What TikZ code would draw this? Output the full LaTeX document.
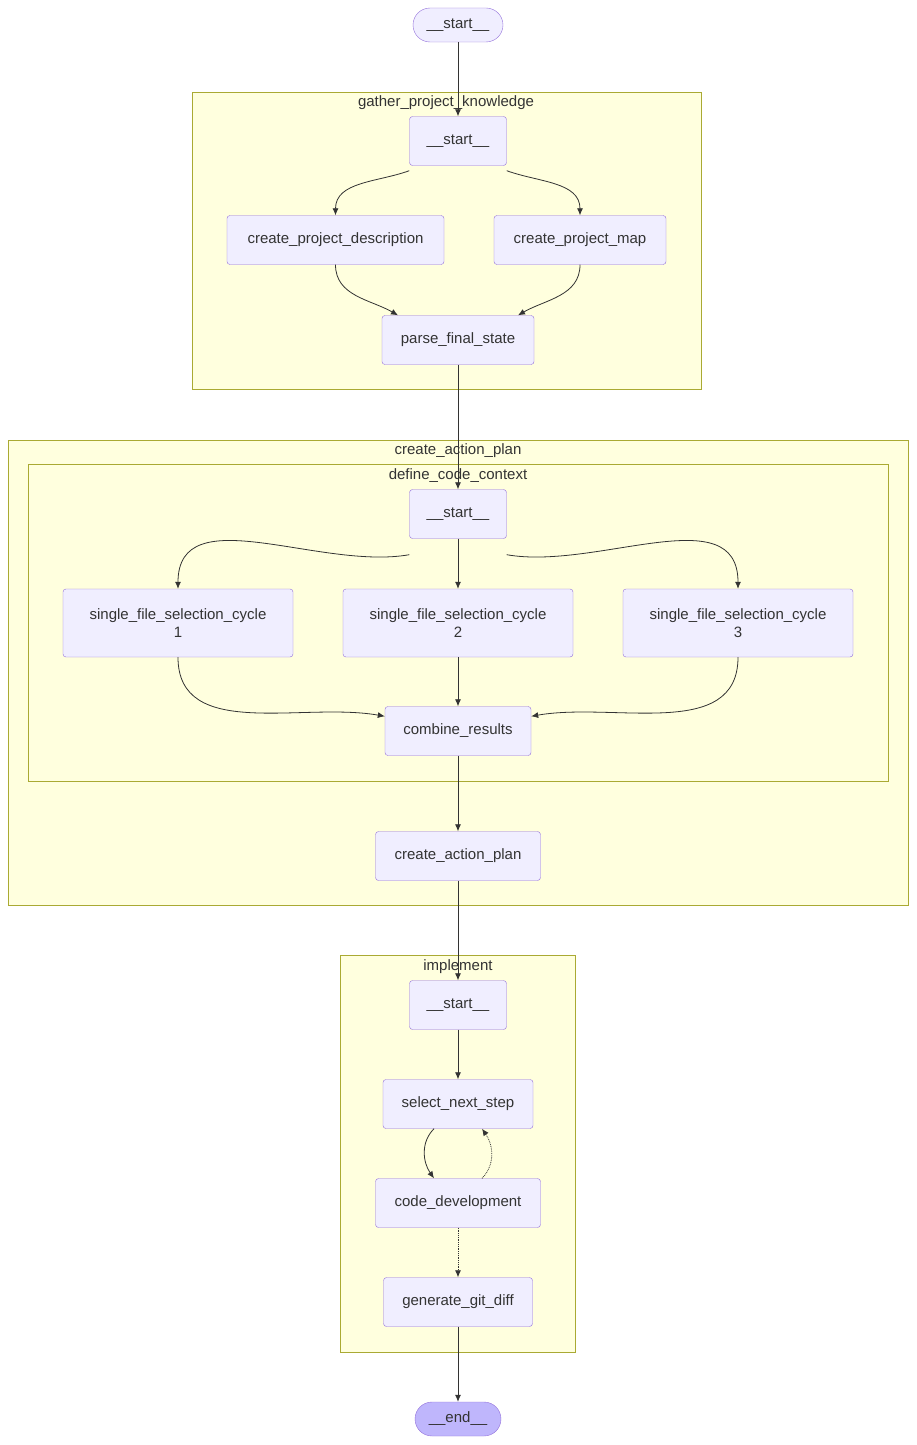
\documentclass[tikz,border=0pt]{standalone}
\usepackage{fontspec}
\setmainfont{Liberation Sans}
\usetikzlibrary{positioning, arrows.meta, calc}
\definecolor{nodeFill}{HTML}{F0EEFF}
\definecolor{nodeLine}{HTML}{9370DB}
\definecolor{clusterFill}{HTML}{FFFFDE}
\definecolor{clusterLine}{HTML}{AAAA33}
\definecolor{endFill}{HTML}{BFB6FC}
\definecolor{edgeLine}{HTML}{333333}
\tikzset{
  graphnode/.style={draw=nodeLine, fill=nodeFill, rounded corners=3pt, align=center, inner sep=0pt, minimum height=49pt, text=edgeLine},
  terminal/.style={draw=nodeLine, rounded corners=17pt, minimum height=34pt, inner sep=0pt, text=edgeLine},
  cluster/.style={draw=clusterLine, fill=clusterFill},
  clustertitle/.style={text=edgeLine},
  flow/.style={-{Latex[length=7pt,width=6pt]}, draw=edgeLine, line width=0.8pt},
}
\begin{document}
\begin{tikzpicture}[x=1pt, y=-1pt, font=\fontsize{15}{18}\selectfont]
\useasboundingbox (0,0) rectangle (916,1445);

% clusters
\draw[cluster] (192,92) rectangle (701,389);
\node (gatherTitle) [clustertitle] at (446,103) {gather\_project\_knowledge};
\draw[cluster] (8,440) rectangle (908,905);
\node (planTitle) [clustertitle] at (458,451) {create\_action\_plan};
\draw[cluster] (28,464) rectangle (888,781);
\node (contextTitle) [clustertitle] at (458,476) {define\_code\_context};
\draw[cluster] (340,955) rectangle (575,1352);
\node (implTitle) [clustertitle] at (458,967) {implement};

% nodes
\node (start) [terminal, fill=nodeFill, minimum width=90pt] at (458,25) {\_\_start\_\_};
\node (gatherStart) [graphnode, minimum width=97pt] at (458,141) {\_\_start\_\_};
\node (projDesc) [graphnode, minimum width=217pt] at (335.5,240) {create\_project\_description};
\node (projMap) [graphnode, minimum width=172pt] at (580,240) {create\_project\_map};
\node (parseState) [graphnode, minimum width=152pt] at (458,340) {parse\_final\_state};

\node (contextStart) [graphnode, minimum width=97pt] at (458,514) {\_\_start\_\_};
\foreach \i/\x in {1/178, 2/458, 3/738}
  \node (fileCycle\i) [graphnode, minimum width=230pt, minimum height=68pt] at (\x,623) {single\_file\_selection\_cycle\\\i};
\node (combine) [graphnode, minimum width=146pt] at (458,731) {combine\_results};
\node (actionPlan) [graphnode, minimum width=165pt] at (458,856) {create\_action\_plan};

\node (implStart) [graphnode, minimum width=97pt] at (458,1005) {\_\_start\_\_};
\node (nextStep) [graphnode, minimum width=150pt] at (458,1104) {select\_next\_step};
\node (codeDev) [graphnode, minimum width=165pt] at (458,1203) {code\_development};
\node (gitDiff) [graphnode, minimum width=149pt] at (458,1302) {generate\_git\_diff};
\node (end) [terminal, fill=endFill, minimum width=86pt] at (458,1419) {\_\_end\_\_};

% edges
\draw[flow] (start) -- (gatherStart);
\draw[flow] (gatherStart.south west) ++(0,-5pt) to[out=200, in=90] (projDesc.north);
\draw[flow] (gatherStart.south east) ++(0,-5pt) to[out=-20, in=90] (projMap.north);
\draw[flow] (projDesc.south) to[out=-90, in=150] ([xshift=-60pt]parseState.north);
\draw[flow] (projMap.south) to[out=-90, in=30] ([xshift=60pt]parseState.north);
\draw[flow] (parseState) -- (contextStart);

\draw[flow] (contextStart.south west) ++(0,-16pt) to[out=190, in=90] (fileCycle1.north);
\draw[flow] (contextStart) -- (fileCycle2);
\draw[flow] (contextStart.south east) ++(0,-16pt) to[out=-10, in=90] (fileCycle3.north);
\draw[flow] (fileCycle1.south) to[out=-90, in=170] ([yshift=-10pt]combine.north west);
\draw[flow] (fileCycle2) -- (combine);
\draw[flow] (fileCycle3.south) to[out=-90, in=10] ([yshift=-10pt]combine.north east);
\draw[flow] (combine) -- (actionPlan);
\draw[flow] (actionPlan) -- (implStart);

\draw[flow] (implStart) -- (nextStep);
\draw[flow] ([xshift=-24pt]nextStep.south) to[out=225, in=125] ([xshift=-24pt]codeDev.north);
\draw[flow, densely dotted] ([xshift=24pt]codeDev.north) to[out=45, in=-55] ([xshift=24pt]nextStep.south);
\draw[flow, densely dotted] (codeDev) -- (gitDiff);
\draw[flow] (gitDiff) -- (end);
\end{tikzpicture}
\end{document}
